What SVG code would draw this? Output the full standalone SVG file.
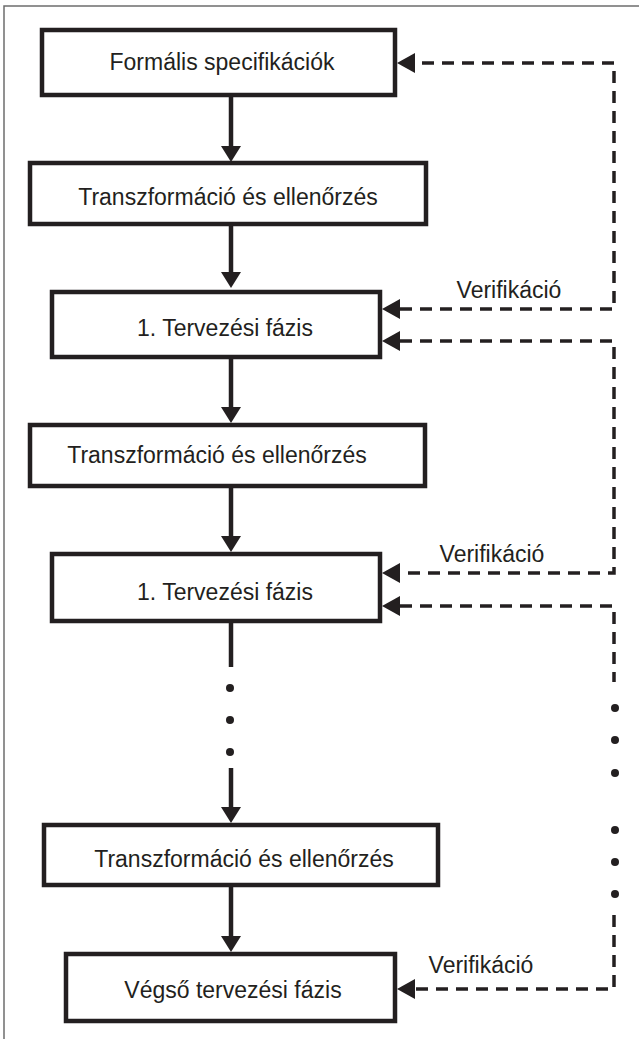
<svg xmlns="http://www.w3.org/2000/svg" width="639" height="1039" viewBox="0 0 639 1039">
  <style>
    .box { fill: #ffffff; stroke: #231f20; stroke-width: 4.5; }
    .label { font-family: "Liberation Sans", Arial, sans-serif; font-size: 23px; fill: #231f20; text-anchor: middle; }
    .flow { fill: none; stroke: #231f20; stroke-width: 4.5; }
    .verify { fill: none; stroke: #231f20; stroke-width: 3.5; stroke-dasharray: 12 8; }
    .dot { fill: #231f20; }
    .frame { fill: none; stroke: #6d6d6d; stroke-width: 1.5; }
  </style>
  <defs>
    <marker id="arrowSolid" markerUnits="userSpaceOnUse" viewBox="0 0 16 20" markerWidth="16" markerHeight="20" refX="0" refY="10" orient="auto">
      <path d="M0,0 L16,10 L0,20 Z" fill="#231f20"/>
    </marker>
    <marker id="arrowDash" markerUnits="userSpaceOnUse" viewBox="0 0 18 20" markerWidth="18" markerHeight="20" refX="0" refY="10" orient="auto-start-reverse">
      <path d="M0,0 L18,10 L0,20 Z" fill="#231f20"/>
    </marker>
  </defs>

  <rect width="639" height="1039" fill="#ffffff"/>
  <path class="frame" d="M4,1039 V6 H639"/>

  <!-- process steps -->
  <g id="formal-spec">
    <rect class="box" x="42" y="30" width="353" height="65"/>
    <text class="label" x="222" y="70">Formális specifikációk</text>
  </g>
  <g id="transform-1">
    <rect class="box" x="30" y="163" width="396" height="61"/>
    <text class="label" x="228" y="205">Transzformáció és ellenőrzés</text>
  </g>
  <g id="design-phase-1">
    <rect class="box" x="52" y="292" width="328" height="65"/>
    <text class="label" x="225" y="336">1. Tervezési fázis</text>
  </g>
  <g id="transform-2">
    <rect class="box" x="30" y="425" width="395" height="61"/>
    <text class="label" x="217" y="463">Transzformáció és ellenőrzés</text>
  </g>
  <g id="design-phase-2">
    <rect class="box" x="52" y="554" width="328" height="67"/>
    <text class="label" x="225" y="600">1. Tervezési fázis</text>
  </g>
  <g id="transform-n">
    <rect class="box" x="44" y="825" width="394" height="60"/>
    <text class="label" x="244" y="867">Transzformáció és ellenőrzés</text>
  </g>
  <g id="final-design">
    <rect class="box" x="66" y="954" width="329" height="67"/>
    <text class="label" x="233" y="998">Végső tervezési fázis</text>
  </g>

  <!-- connectors -->
  <g id="connectors">
    <!-- main flow -->
    <path class="flow" d="M231,97 V146" marker-end="url(#arrowSolid)"/>
    <path class="flow" d="M231,226 V272" marker-end="url(#arrowSolid)"/>
    <path class="flow" d="M231,359 V407" marker-end="url(#arrowSolid)"/>
    <path class="flow" d="M231,488 V536" marker-end="url(#arrowSolid)"/>
    <path class="flow" d="M231,623 V667"/>
    <circle class="dot" cx="230" cy="688" r="4"/>
    <circle class="dot" cx="230" cy="720" r="4"/>
    <circle class="dot" cx="230" cy="752" r="4"/>
    <path class="flow" d="M231,768 V807" marker-end="url(#arrowSolid)"/>
    <path class="flow" d="M231,887 V936" marker-end="url(#arrowSolid)"/>

    <!-- verification feedback -->
    <path class="verify" d="M400,309 H614 V63 H415" marker-start="url(#arrowDash)" marker-end="url(#arrowDash)"/>
    <text class="label" x="509" y="298">Verifikáció</text>
    <path class="verify" d="M400,341 H614 V573 H400" marker-start="url(#arrowDash)" marker-end="url(#arrowDash)"/>
    <text class="label" x="492" y="562">Verifikáció</text>
    <path class="verify" d="M400,606 H614 V682" marker-start="url(#arrowDash)"/>
    <circle class="dot" cx="615" cy="708" r="4"/>
    <circle class="dot" cx="615" cy="740" r="4"/>
    <circle class="dot" cx="615" cy="773" r="4"/>
    <circle class="dot" cx="615" cy="830" r="4"/>
    <circle class="dot" cx="615" cy="862" r="4"/>
    <circle class="dot" cx="615" cy="894" r="4"/>
    <path class="verify" d="M614,915 V989 H415" marker-end="url(#arrowDash)"/>
    <text class="label" x="481" y="973">Verifikáció</text>
  </g>
</svg>
